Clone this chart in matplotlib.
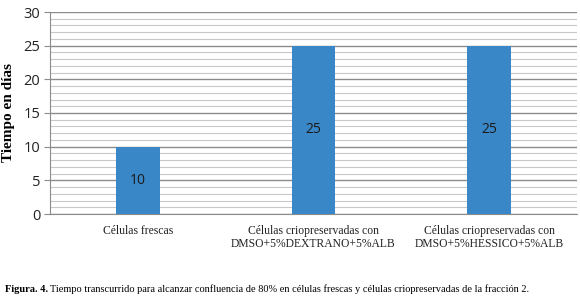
import matplotlib.pyplot as plt
from matplotlib.ticker import MultipleLocator

categorias = ['Células frescas',
              'Células criopreservadas con\nDMSO+5%DEXTRANO+5%ALB',
              'Células criopreservadas con\nDMSO+5%HESSICO+5%ALB']
dias = [10, 25, 25]

fig = plt.figure(figsize=(5.8, 3.02), dpi=100)
ax = fig.add_axes([50 / 580, 1 - 214 / 302, 527 / 580, 202 / 302])

x = range(len(categorias))
bars = ax.bar(x, dias, width=0.25, color='#3A87C8', zorder=3)
for b, v in zip(bars, dias):
    ax.text(b.get_x() + b.get_width() / 2, v / 2, str(v), ha='center', va='center',
            fontsize=10, color='#1a1a1a', family='Open Sans', zorder=4)

ax.set_xlim(-0.5, 2.5)
ax.set_ylim(0, 30)
ax.yaxis.set_major_locator(MultipleLocator(5))
ax.yaxis.set_minor_locator(MultipleLocator(1))
ax.grid(axis='y', which='major', color='#8c8c8c', linewidth=1, zorder=0)
ax.grid(axis='y', which='minor', color='#c8c8c8', linewidth=0.8, zorder=0)
ax.set_axisbelow(True)

for s in ['top', 'right']:
    ax.spines[s].set_visible(False)
for s in ['left', 'bottom']:
    ax.spines[s].set_color('#8c8c8c')

ax.tick_params(axis='y', which='major', length=4, color='#8c8c8c', labelsize=10.5, pad=3)
ax.tick_params(axis='y', which='minor', length=0)
ax.tick_params(axis='x', length=0, pad=8)
for t in ax.get_yticklabels():
    t.set_family('Open Sans')
    t.set_color('#222222')

ax.set_xticks(list(x))
ax.set_xticklabels(categorias, family='Liberation Serif', fontsize=8.4, color='#222222',
                   linespacing=1.05)
ax.set_ylabel('Tiempo en días', family='Liberation Serif', fontweight='bold',
              fontsize=11, labelpad=6)

fig.text(5 / 580, 1 - 289 / 302, 'Figura. 4.', family='Liberation Serif',
         fontweight='bold', fontsize=7.5, va='center')
fig.text(50 / 580, 1 - 289 / 302,
         'Tiempo transcurrido para alcanzar confluencia de 80% en células frescas y células criopreservadas de la fracción 2.',
         family='Liberation Serif', fontsize=7.5, va='center')

fig.savefig('out.png', dpi=100)
